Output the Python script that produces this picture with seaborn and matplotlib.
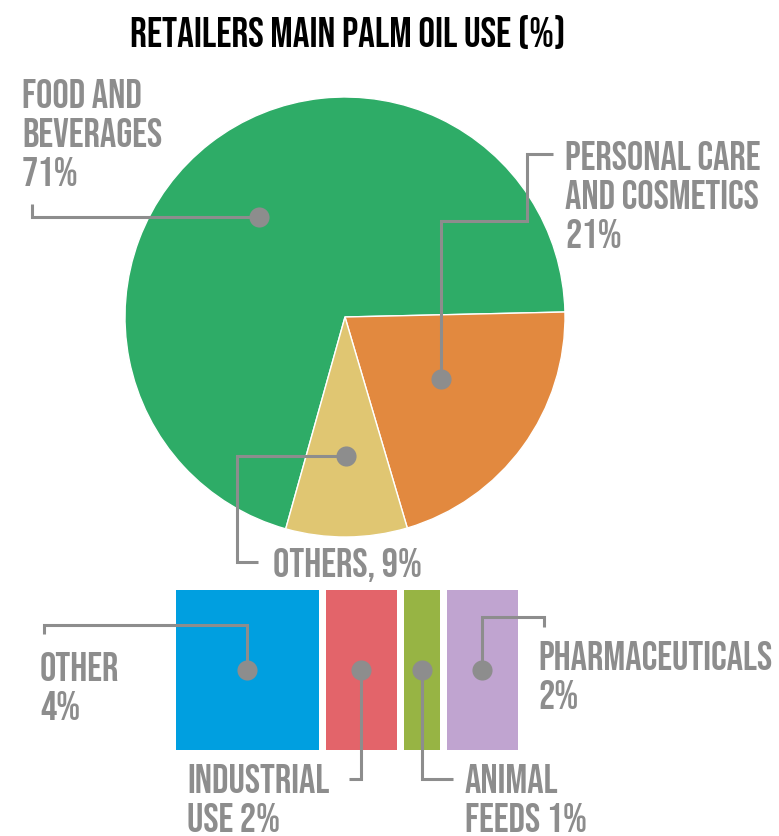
import matplotlib
matplotlib.use("Agg")
import matplotlib.pyplot as plt
import numpy as np
import seaborn as sns

# Main uses of palm oil by retailers (%)
pie_categories = ["Food and beverages", "Personal care and cosmetics", "Others"]
pie_values = [71, 21, 9]
pie_colors = ["#2eac67", "#e2893f", "#e0c672"]
pie_label_lines = [["FOOD AND", "BEVERAGES", "{v}%"],
                   ["PERSONAL CARE", "AND COSMETICS", "{v}%"],
                   ["OTHERS, {v}%"]]

# Breakdown of the "Others" slice
bar_categories = ["Other", "Industrial use", "Animal feeds", "Pharmaceuticals"]
bar_values = [4, 2, 1, 2]
bar_colors = ["#009fe0", "#e3646a", "#97b444", "#c0a4d0"]
bar_label_lines = [["OTHER", "{v}%"],
                   ["INDUSTRIAL", "USE {v}%"],
                   ["ANIMAL", "FEEDS {v}%"],
                   ["PHARMACEUTICALS", "{v}%"]]

title = "RETAILERS MAIN PALM OIL USE (%)"

sns.set_theme(style="white")
plt.rcParams["font.family"] = ["Bebas Neue", "DejaVu Sans"]

GRAY = "#8d8d8d"
W, H = 779, 837
fig = plt.figure(figsize=(W / 100, H / 100), dpi=100)
fig.patch.set_facecolor("white")


def px_axes(x0, y0, x1, y1, **kw):
    """Axes placed by a pixel box measured from the top-left corner."""
    return fig.add_axes([x0 / W, 1 - y1 / H, (x1 - x0) / W, (y1 - y0) / H], **kw)


# --- pie: drawn clockwise, the first wedge ending just above 3 o'clock -------
pie_ax = px_axes(125, 98, 565, 538)
start = 1.3 + 360 * pie_values[0] / sum(pie_values)
wedges, _ = pie_ax.pie(pie_values, colors=pie_colors, startangle=start,
                       counterclock=False, radius=1,
                       wedgeprops=dict(edgecolor="white", linewidth=1.0))
pie_ax.set_xlim(-1, 1)
pie_ax.set_ylim(-1, 1)
pie_ax.set_aspect("equal")
pie_ax.axis("off")

# --- strip of stacked segments --------------------------------------------
bar_ax = px_axes(176, 591, 518, 751)
gap = 0.2
vals = np.asarray(bar_values, dtype=float)
lefts = np.concatenate([[0.0], np.cumsum(vals)[:-1]]) + gap * np.arange(len(vals))
bar_ax.barh(0, vals, left=lefts, height=1.0, color=bar_colors, linewidth=0)
bar_ax.set_xlim(0, vals.sum() + gap * (len(vals) - 1))
bar_ax.set_ylim(-0.5, 0.5)
bar_ax.axis("off")

# --- overlay in pixel coordinates for leaders and labels --------------------
ov = fig.add_axes([0, 0, 1, 1], zorder=5)
ov.set_xlim(0, W)
ov.set_ylim(H, 0)
ov.axis("off")
ov.patch.set_alpha(0)


def to_px(ax, x, y):
    return ov.transData.inverted().transform(ax.transData.transform((x, y)))


def leader(points):
    xs, ys = zip(*points)
    ov.plot(xs, ys, color=GRAY, lw=2.2, solid_capstyle="butt",
            solid_joinstyle="miter", zorder=6)
    ov.plot(xs[0], ys[0], "o", ms=14.5, color=GRAY, mec="none", zorder=7)


def label(lines, value, x, baseline, pitch=39, size=29.3):
    for i, ln in enumerate(lines):
        ov.text(x, baseline + i * pitch, ln.format(v=value), color=GRAY,
                fontsize=size, ha="left", va="baseline", zorder=8)


# pie dots sit near the middle angle of each wedge
pie_dot_r = [0.60, 0.52, 0.63]
pie_dot_shift = [3.0, 3.5, 0.0]
pie_dots = []
for w, r, d in zip(wedges, pie_dot_r, pie_dot_shift):
    th = np.deg2rad((w.theta1 + w.theta2) / 2 + d)
    pie_dots.append(to_px(pie_ax, r * np.cos(th), r * np.sin(th)))

(fx, fy), (cx, cy), (ox, oy) = pie_dots
leader([(fx, fy), (32, fy), (32, 205)])
leader([(cx, cy), (cx, 222), (527, 222), (527, 155), (553, 155)])
leader([(ox, oy), (237, oy), (237, 563), (258, 563)])

pie_label_pos = [(22, 108), (565, 170), (273, 577)]
for lines, v, (x, b) in zip(pie_label_lines, pie_values, pie_label_pos):
    label(lines, v, x, b)

# strip dots at the centre of each segment
bar_dots = [to_px(bar_ax, l + v / 2, 0) for l, v in zip(lefts, vals)]
(ax1, ay1), (ax2, ay2), (ax3, ay3), (ax4, ay4) = bar_dots
leader([(ax1, ay1), (ax1, 626), (44, 626), (44, 635)])
leader([(ax2, ay2), (ax2, 780), (349, 780)])
leader([(ax3, ay3), (ax3, 780), (453, 780)])
leader([(ax4, ay4), (ax4, 618), (544, 618), (544, 628)])

bar_label_pos = [(40, 681), (187, 793), (465, 793), (538, 670)]
for lines, v, (x, b) in zip(bar_label_lines, bar_values, bar_label_pos):
    label(lines, v, x, b)

ov.text(347.5, 47, title, color="black", fontsize=30,
        ha="center", va="baseline", zorder=8)

fig.savefig("out.png", dpi=100)
